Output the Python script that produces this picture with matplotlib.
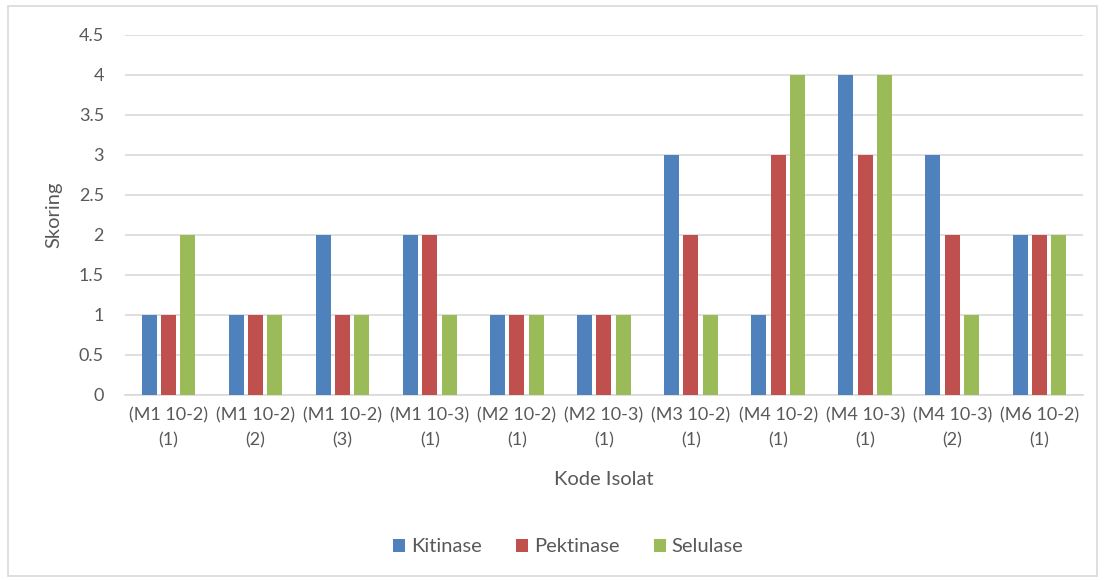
import numpy as np
import matplotlib.pyplot as plt
from matplotlib.patches import Rectangle

plt.rcParams['font.family'] = ['Lato', 'DejaVu Sans']

categories = ['(M1 10-2)\n(1)', '(M1 10-2)\n(2)', '(M1 10-2)\n(3)', '(M1 10-3)\n(1)',
              '(M2 10-2)\n(1)', '(M2 10-3)\n(1)', '(M3 10-2)\n(1)', '(M4 10-2)\n(1)',
              '(M4 10-3)\n(1)', '(M4 10-3)\n(2)', '(M6 10-2)\n(1)']
kitinase = [1, 1, 2, 2, 1, 1, 3, 1, 4, 3, 2]
pektinase = [1, 1, 1, 2, 1, 1, 2, 3, 3, 2, 2]
selulase = [2, 1, 1, 1, 1, 1, 1, 4, 4, 1, 2]
series_names = ['Kitinase', 'Pektinase', 'Selulase']
colors = ['#4F81BD', '#C0504D', '#9BBB59']

text_col = '#595959'
grid_col = '#D9D9D9'

fig = plt.figure(figsize=(11.05, 5.8), dpi=100)
ax = fig.add_axes([0.113, 0.319, 0.867, 0.621])

# chart border
fig.patches.append(Rectangle((0.007, 0.007), 0.986, 0.983, transform=fig.transFigure,
                             fill=False, edgecolor=grid_col, linewidth=1.2))

x = np.arange(len(categories))
w = 0.172
step = 0.222
for i, (vals, name) in enumerate(zip([kitinase, pektinase, selulase], series_names)):
    ax.bar(x + (i - 1) * step, vals, width=w, color=colors[i], label=name, zorder=3)

ax.set_xlim(-0.5, len(categories) - 0.5)
ax.set_ylim(0, 4.5)
ax.set_yticks(np.arange(0, 4.51, 0.5))
ax.set_yticklabels(['0', '0.5', '1', '1.5', '2', '2.5', '3', '3.5', '4', '4.5'])
ax.set_xticks(x)
ax.set_xticklabels(categories, linespacing=1.7)
ax.yaxis.grid(True, color=grid_col, linewidth=1.2, zorder=0)
for s in ['top', 'right', 'left']:
    ax.spines[s].set_visible(False)
ax.spines['bottom'].set_color(grid_col)
ax.spines['bottom'].set_linewidth(1.2)
ax.tick_params(axis='both', length=0, colors=text_col, labelsize=13)
ax.tick_params(axis='y', pad=15)
ax.tick_params(axis='x', pad=9)

ax.set_xlabel('Kode Isolat', color=text_col, fontsize=14.5, labelpad=16)
ax.set_ylabel('Skoring', color=text_col, fontsize=14.5, labelpad=12)

fig.legend(loc='center', bbox_to_anchor=(0.514, 0.057), ncol=3, frameon=False,
           fontsize=14.5, handlelength=0.6, handleheight=0.6, handletextpad=0.3,
           columnspacing=1.7, labelcolor=text_col)

fig.savefig('out.png', dpi=100)
